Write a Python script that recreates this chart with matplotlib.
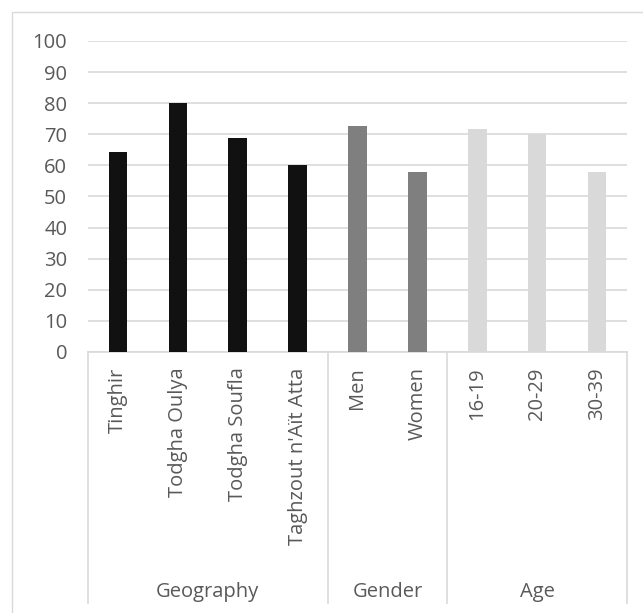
import matplotlib
matplotlib.use("Agg")
import matplotlib.pyplot as plt
from matplotlib.patches import Rectangle
from matplotlib.lines import Line2D
import matplotlib.transforms as mtransforms

# Data
categories = ["Tinghir", "Todgha Oulya", "Todgha Soufla", "Taghzout n'Aït Atta",
              "Men", "Women", "16-19", "20-29", "30-39"]
values = [64.4, 80.0, 68.9, 60.0, 72.6, 57.8, 71.7, 70.0, 57.8]
groups = ["Geography", "Gender", "Age"]
group_sizes = [4, 2, 3]
group_colors = ["#111111", "#7f7f7f", "#d9d9d9"]
y_ticks = [0, 10, 20, 30, 40, 50, 60, 70, 80, 90, 100]

plt.rcParams['font.family'] = ['Open Sans', 'DejaVu Sans']
text_color = "#595959"
grid_color = "#d9d9d9"
fs = 14.5

W, H = 643, 613
fig = plt.figure(figsize=(W / 100, H / 100), dpi=100)
fig.patch.set_facecolor("white")

# Outer chart border (its right and bottom edges fall outside the canvas)
fig.add_artist(Rectangle((12 / W, 1 - 630 / H), (660 - 12) / W, (630 - 12) / H,
                         transform=fig.transFigure, fill=False,
                         edgecolor="#d9d9d9", linewidth=1.0))

left, right, top, bottom = 88, 627, 41, 352
ax = fig.add_axes([left / W, 1 - bottom / H, (right - left) / W, (bottom - top) / H])

bar_colors = []
for c, n in zip(group_colors, group_sizes):
    bar_colors += [c] * n
x = list(range(len(categories)))
ax.bar(x, values, width=0.31, color=bar_colors, zorder=3)

ax.set_xlim(-0.5, len(categories) - 0.5)
ax.set_ylim(0, 100)
ax.set_yticks(y_ticks)
ax.yaxis.grid(True, color=grid_color, linewidth=1.2, zorder=0)
for s in ["top", "right", "left"]:
    ax.spines[s].set_visible(False)
ax.spines["bottom"].set_color(grid_color)
ax.spines["bottom"].set_linewidth(1.2)
ax.tick_params(axis="y", length=0, pad=15, labelsize=fs, labelcolor=text_color)
ax.tick_params(axis="x", length=0, pad=11, labelsize=fs, labelcolor=text_color)
ax.set_xticks(x)
ax.set_xticklabels(categories, rotation=90)

# Group separators and group labels below the axis
trans = mtransforms.blended_transform_factory(ax.transData, fig.transFigure)
y_line_bottom = 1 - 603 / H
y_axis = 1 - bottom / H
edges = [-0.5]
for n in group_sizes:
    edges.append(edges[-1] + n)
for e in edges:
    fig.add_artist(Line2D([e, e], [y_axis, y_line_bottom], transform=trans,
                          color=grid_color, linewidth=1.2))
for i, g in enumerate(groups):
    cx = (edges[i] + edges[i + 1]) / 2
    fig.text(cx, 1 - 592 / H, g, transform=trans, ha="center", va="center",
             fontsize=fs, color=text_color)

fig.savefig("out.png", dpi=100)
